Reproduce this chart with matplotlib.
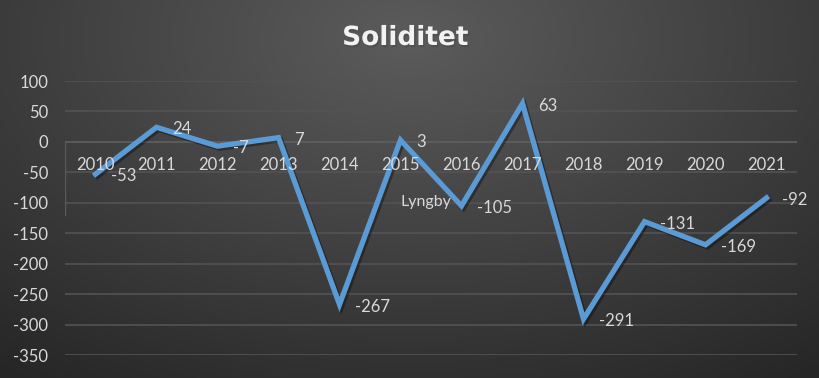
import matplotlib
matplotlib.use("Agg")
import matplotlib.pyplot as plt
import matplotlib.patheffects as pe
import numpy as np

plt.rcParams["font.family"] = ["Lato", "DejaVu Sans"]

years = ["2010", "2011", "2012", "2013", "2014", "2015", "2016", "2017", "2018", "2019", "2020", "2021"]
values = [-53, 24, -7, 7, -267, 3, -105, 63, -291, -131, -169, -92]
yticks = [100, 50, 0, -50, -100, -150, -200, -250, -300, -350]

W, H = 819, 378
fig = plt.figure(figsize=(W / 100, H / 100), dpi=100)

# radial gradient background
bg = fig.add_axes([0, 0, 1, 1])
gx, gy = np.meshgrid(np.linspace(0, 1, 400), np.linspace(0, 1, 200))
r = np.sqrt(((gx - 0.5) / 0.75) ** 2 + ((gy - 0.1) / 1.0) ** 2)
shade = np.clip(0.36 - 0.19 * r, 0.15, 0.36)
bg.imshow(np.dstack([shade] * 3), extent=[0, 1, 0, 1], aspect="auto", origin="upper")
bg.set_axis_off()

ax = fig.add_axes([65 / W, 1 - 355 / H, (797 - 65) / W, (355 - 81) / H])
ax.patch.set_alpha(0)
x = np.arange(len(years))
ax.set_xlim(-0.5, len(years) - 0.5)
ax.set_ylim(-350, 100)

for yv in yticks:
    ax.axhline(yv, color="#535353" if yv != 0 else "#606060", lw=1.2, zorder=1)
ax.plot([-0.5, -0.5], [0, -120], color="#5a5a5a", lw=1, zorder=1)

ax.plot(x, values, color="#5b9bd5", lw=3.8, solid_joinstyle="miter", zorder=3,
        path_effects=[pe.SimpleLineShadow(offset=(1.5, -1.5), alpha=0.35), pe.Normal()])

for xi, yr in zip(x, years):
    ax.annotate(yr, (xi, 0), xytext=(0, -17), textcoords="offset points",
                ha="center", va="center", color="#d9d9d9", fontsize=12, zorder=4)

for xi, v in zip(x, values):
    ax.annotate(str(v), (xi, v), xytext=(11.5, -1.5), textcoords="offset points",
                ha="left", va="center", color="#d9d9d9", fontsize=12, zorder=4)

ax.annotate("Lyngby", (6, -105), xytext=(-7, 3), textcoords="offset points",
            ha="right", va="center", color="#d9d9d9", fontsize=11.5, zorder=4)

ax.set_xticks([])
ax.set_yticks(yticks)
ax.set_yticklabels([str(t) for t in yticks], color="#d9d9d9", fontsize=12)
ax.tick_params(axis="y", length=0, pad=12)
for s in ax.spines.values():
    s.set_visible(False)

fig.text(0.495, 1 - 38 / H, "Soliditet", ha="center", va="center", color="#f2f2f2",
         fontsize=19, fontweight="bold", family=["DejaVu Sans"],
         path_effects=[pe.withSimplePatchShadow(offset=(1, -1.5), alpha=0.6)])

fig.savefig("out.png", dpi=100)
